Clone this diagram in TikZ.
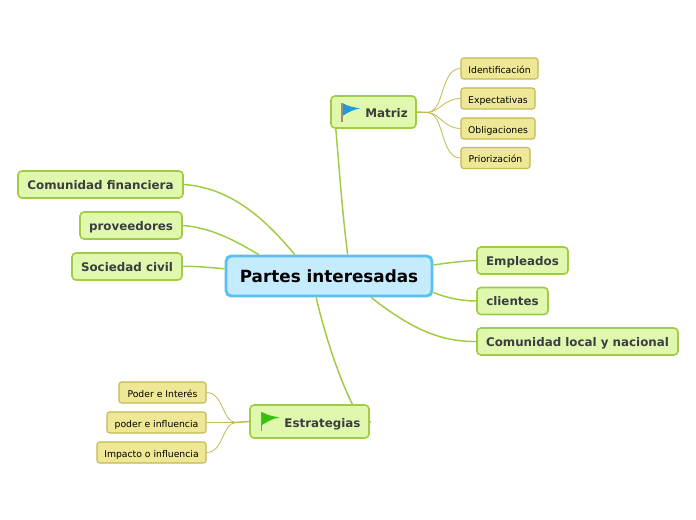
\documentclass[tikz,border=0pt]{standalone}
\usepackage{fontspec}
\setmainfont{DejaVu Sans}
\definecolor{rootfill}{HTML}{C5ECFE}
\definecolor{rootline}{HTML}{5BC0F0}
\definecolor{mainfill}{HTML}{E0F8AE}
\definecolor{mainline}{HTML}{9FCB45}
\definecolor{leaffill}{HTML}{EDE796}
\definecolor{leafline}{HTML}{C2B94F}
\definecolor{textdark}{HTML}{3A3E3E}
\definecolor{flagblue}{HTML}{1C9BE2}
\definecolor{flaggreen}{HTML}{35C00E}
\definecolor{flagpole}{HTML}{A58B72}
\begin{document}
\begin{tikzpicture}[x=0.75pt,y=-0.75pt,
    rootbox/.style={draw=rootline, fill=rootfill, line width=2.2pt, rounded corners=4pt, minimum width=154.5pt, minimum height=30pt, inner sep=0pt, text height=12pt, text depth=2pt, font=\fontsize{12.6}{15}\selectfont\bfseries},
    mainbox/.style={draw=mainline, fill=mainfill, line width=1.2pt, rounded corners=3pt, inner sep=0pt, text=textdark, text height=8pt, text depth=1.2pt, font=\fontsize{8.9}{11}\selectfont\bfseries},
    flagbox/.style={mainbox, text height=9.5pt},
    leafbox/.style={draw=leafline, fill=leaffill, line width=0.8pt, rounded corners=2pt, inner sep=0pt, text height=7.3pt, text depth=0pt, font=\fontsize{6.95}{9}\selectfont},
    mainarr/.style={draw=mainline, line width=1.1pt},
    leafarr/.style={draw=leafline, line width=0.6pt},
    pics/flag/.style={code={
        \fill[#1] (0.5,-9.5) .. controls (6,-6) and (11,-5.5) .. (18,-4) .. controls (11,-3) and (6,0) .. (0.5,3.5) -- cycle;
        \draw[flagpole, line width=1.1pt] (0,-9.5) -- (0,9.5);
    }}
]
\useasboundingbox (0,0) rectangle (696,520);

% nodes
\node[rootbox] (root) at (329,276) {Partes interesadas};
\node[flagbox, minimum width=63.75pt, minimum height=24pt] (matriz) at (373.5,112) {\hspace{19.5pt}Matriz};
\node[mainbox, minimum width=123.75pt, minimum height=20.25pt] (financiera) at (100.5,184.5) {Comunidad financiera};
\node[mainbox, minimum width=76.5pt, minimum height=20.25pt] (proveedores) at (131,225.5) {proveedores};
\node[mainbox, minimum width=82.5pt, minimum height=20.25pt] (sociedad) at (127,266.5) {Sociedad civil};
\node[mainbox, minimum width=68.25pt, minimum height=20.25pt] (empleados) at (522.5,260.5) {Empleados};
\node[mainbox, minimum width=53.25pt, minimum height=20.25pt] (clientes) at (512.5,301) {clientes};
\node[mainbox, minimum width=150.75pt, minimum height=20.25pt] (local) at (577.5,341.5) {Comunidad local y nacional};
\node[flagbox, minimum width=89.25pt, minimum height=24.75pt] (estrategias) at (309.5,421.5) {\hspace{19.5pt}Estrategias};

\node[leafbox, minimum width=57.75pt, minimum height=15.75pt] (l1) at (499.5,68.5) {Identificación};
\node[leafbox, minimum width=55.5pt, minimum height=15.75pt] (l2) at (498,98.5) {Expectativas};
\node[leafbox, minimum width=55.5pt, minimum height=15.75pt] (l3) at (498,128.5) {Obligaciones};
\node[leafbox, minimum width=51.75pt, minimum height=15.75pt] (l4) at (495.5,158) {Priorización};
\node[leafbox, minimum width=65.25pt, minimum height=15.75pt] (l5) at (162.5,392.5) {Poder e Interés};
\node[leafbox, minimum width=74.25pt, minimum height=15.75pt] (l6) at (156.5,422.5) {poder e influencia};
\node[leafbox, minimum width=81.75pt, minimum height=15.75pt] (l7) at (151.5,452.5) {Impacto o influencia};

\pic at (342,112.5) {flag=flagblue};
\pic at (261.5,421.5) {flag=flaggreen};

\coordinate (hubm) at (427,112.5);
\coordinate (hube) at (236,422.5);
\coordinate (stub) at (371,422);

% main branches
\draw[mainarr] (root.49.6) .. controls (342,210) and (339,165) .. (matriz.204);
\draw[mainarr] (root.148.5) .. controls (270,225) and (235,188) .. (financiera.east);
\draw[mainarr] (root.163) .. controls (240,244) and (215,228) .. (proveedores.east);
\draw[mainarr] (root.176.7) .. controls (212,268) and (200,266) .. (sociedad.east);
\draw[mainarr] (root.6.1) .. controls (447,263) and (462,261) .. (empleados.west);
\draw[mainarr] (root.-9.4) .. controls (447,298) and (462,301) .. (clientes.west);
\draw[mainarr] (root.-27.5) .. controls (410,328) and (440,342) .. (local.west);
\draw[mainarr] (root.239) .. controls (325,335) and (338,375) .. (estrategias.22);
\draw[mainarr] (estrategias.east) -- (stub);

% leaf branches
\draw[leafarr, line width=1.1pt] (matriz.east) -- (hubm);
\draw[leafarr] (hubm) .. controls (445,112) and (440,69) .. (l1.west);
\draw[leafarr] (hubm) .. controls (440,112) and (443,99) .. (l2.west);
\draw[leafarr] (hubm) .. controls (440,113) and (443,128) .. (l3.west);
\draw[leafarr] (hubm) .. controls (445,113) and (440,158) .. (l4.west);
\draw[leafarr, line width=1.1pt] (estrategias.west) -- (hube);
\draw[leafarr] (hube) .. controls (222,422) and (224,393) .. (l5.east);
\draw[leafarr] (hube) -- (l6.east);
\draw[leafarr] (hube) .. controls (222,423) and (224,452) .. (l7.east);
\end{tikzpicture}
\end{document}
